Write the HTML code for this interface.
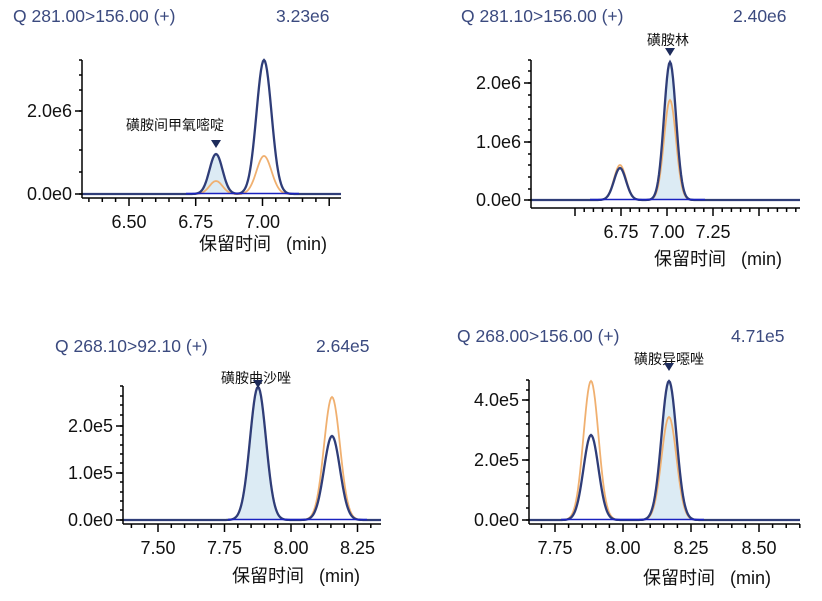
<!DOCTYPE html>
<html><head><meta charset="utf-8"><style>
body{margin:0;background:#fff;width:822px;height:596px;overflow:hidden}
svg text{font-family:"Liberation Sans","Noto Sans CJK SC",sans-serif}
.t{fill:#3b4a7f;font-size:17.5px}
.k{fill:#111;font-size:18px}
.c{fill:#111;font-size:14px}
</style></head><body>
<svg id="s" width="822" height="596" xmlns="http://www.w3.org/2000/svg"></svg>
<script>
const P=[
{ax:82,top:60,base:194,xl:198,xr:341,x0:6.50,px0:129,ppm:267,
 title:["Q 281.00>156.00 (+)",13,16],val:["3.23e6",276,16],
 yt:[["0.0e0",194],["2.0e6",111]],minor:[60,75,90,111,130,150,172,194],
 xt:[[6.50,"6.50"],[6.75,"6.75"],[7.00,"7.00"]],
 peaks:[{x:216,b:154,o:181,s:6.5,fill:1},{x:264,b:60,o:156,s:7.5,fill:0}],
 label:["磺胺间甲氧嘧啶",175,130],tri:[216,148],xlab:[263,250]},
{ax:531,top:60,base:200,xl:208,xr:800,x0:6.75,px0:621,ppm:184,
 title:["Q 281.10>156.00 (+)",461,16],val:["2.40e6",733,16],
 yt:[["0.0e0",200],["1.0e6",142],["2.0e6",83]],minor:[60,71,83,95,107,119,130,142,154,165,177,189,200],
 xt:[[6.75,"6.75"],[7.00,"7.00"],[7.25,"7.25"]],
 peaks:[{x:620,b:168,o:165,s:6,fill:0},{x:670,b:62,o:100,s:6,fill:1}],
 label:["磺胺林",668,45],tri:[670,56],xlab:[718,265]},
{ax:123,top:386,base:520,xl:524,xr:381,x0:7.50,px0:158,ppm:266,
 title:["Q 268.10>92.10 (+)",55,346],val:["2.64e5",316,346],
 yt:[["0.0e0",520],["1.0e5",473],["2.0e5",426]],minor:[386,396,405,415,426,435,445,454,463,473,482,492,501,510,520],
 xt:[[7.50,"7.50"],[7.75,"7.75"],[8.00,"8.00"],[8.25,"8.25"]],
 peaks:[{x:258,b:387,o:387,s:8,fill:1},{x:332,b:436,o:397,s:8,fill:0}],
 label:["磺胺曲沙唑",256,383],tri:[258,388],xlab:[296,582]},
{ax:529,top:380,base:520,xl:524,xr:800,x0:7.75,px0:555,ppm:272,
 title:["Q 268.00>156.00 (+)",457,336],val:["4.71e5",731,336],
 yt:[["0.0e0",520],["2.0e5",460],["4.0e5",400]],minor:[380,390,400,412,424,436,448,460,472,484,496,508,520],
 xt:[[7.75,"7.75"],[8.00,"8.00"],[8.25,"8.25"],[8.50,"8.50"]],
 peaks:[{x:591,b:435,o:381,s:7.5,fill:0},{x:669,b:381,o:417,s:7.5,fill:1}],
 label:["磺胺异噁唑",669,364],tri:[669,371],xlab:[707,584]}
];
let h='';
for(const c of P){
 for(const pk of c.peaks){ if(!pk.fill)continue;
  let d=`M${pk.x-4*pk.s},${c.base}`;
  for(let x=pk.x-4*pk.s;x<=pk.x+4*pk.s;x+=1){d+=` L${x.toFixed(1)},${(c.base-(c.base-pk.b)*Math.exp(-((x-pk.x)**2)/(2*pk.s*pk.s))).toFixed(1)}`}
  d+=` L${pk.x+4*pk.s},${c.base}Z`;h+=`<path d="${d}" fill="#dcebf4"/>`;}
 for(const pk of c.peaks){let d='';
  for(let x=pk.x-4*pk.s;x<=pk.x+4*pk.s;x+=1){d+=(d?' L':'M')+x.toFixed(1)+','+(c.base-(c.base-pk.o)*Math.exp(-((x-pk.x)**2)/(2*pk.s*pk.s))).toFixed(1)}
  h+=`<path d="${d}" fill="none" stroke="#f0b070" stroke-width="1.8"/>`;}
 let d=`M${c.ax},${c.base}`;
 for(let x=c.ax;x<=c.xr;x+=1){let y=c.base;for(const pk of c.peaks){y-=(c.base-pk.b)*Math.exp(-((x-pk.x)**2)/(2*pk.s*pk.s))}d+=` L${x},${y.toFixed(1)}`}
 h+=`<path d="${d}" fill="none" stroke="#2f3d78" stroke-width="2.3"/>`;
 h+=`<line x1="${c.peaks[0].x-30}" x2="${c.peaks[1].x+35}" y1="${c.base-0.5}" y2="${c.base-0.5}" stroke="#1a22c0" stroke-width="1.6"/>`;
 h+=`<line x1="${c.ax}" x2="${c.ax}" y1="${c.top}" y2="${c.xl}" stroke="#000" stroke-width="1.5"/>`;
 h+=`<line x1="${c.ax}" x2="${c.xr}" y1="${c.xl}" y2="${c.xl}" stroke="#000" stroke-width="1.5"/>`;
 for(const m of c.minor)h+=`<line x1="${c.ax-3}" x2="${c.ax}" y1="${m}" y2="${m}" stroke="#000" stroke-width="1.5"/>`;
 for(const [t,y] of c.yt){h+=`<line x1="${c.ax-7}" x2="${c.ax}" y1="${y}" y2="${y}" stroke="#000" stroke-width="1.5"/><text class="k" x="${c.ax-10}" y="${y+6}" text-anchor="end">${t}</text>`}
 for(let v=c.x0-0.25;v<=c.x0+2;v+=0.05){const x=c.px0+(v-c.x0)*c.ppm;if(x<c.ax+2||x>c.xr)continue;
  const maj=Math.abs(Math.round(v*4)-v*4)<0.01;h+=`<line x1="${x.toFixed(1)}" x2="${x.toFixed(1)}" y1="${c.xl}" y2="${c.xl+(maj?8:4)}" stroke="#000" stroke-width="1.5"/>`}
 for(const [v,t] of c.xt){const x=c.px0+(v-c.x0)*c.ppm;h+=`<text class="k" x="${x}" y="${c.xl+30}" text-anchor="middle">${t}</text>`}
 h+=`<text class="k" x="${c.xlab[0]}" y="${c.xlab[1]}" text-anchor="middle" xml:space="preserve">保留时间   (min)</text>`;
 h+=`<text class="t" x="${c.title[1]}" y="${c.title[2]+6}">${c.title[0]}</text><text class="t" x="${c.val[1]}" y="${c.val[2]+6}">${c.val[0]}</text>`;
 h+=`<text class="c" x="${c.label[1]}" y="${c.label[2]}" text-anchor="middle">${c.label[0]}</text>`;
 const [tx,ty]=c.tri;h+=`<path d="M${tx-5},${ty-8} L${tx+5},${ty-8} L${tx},${ty}Z" fill="#1d2b5a"/>`;
}
document.getElementById('s').innerHTML=h;
</script>
</body></html>
